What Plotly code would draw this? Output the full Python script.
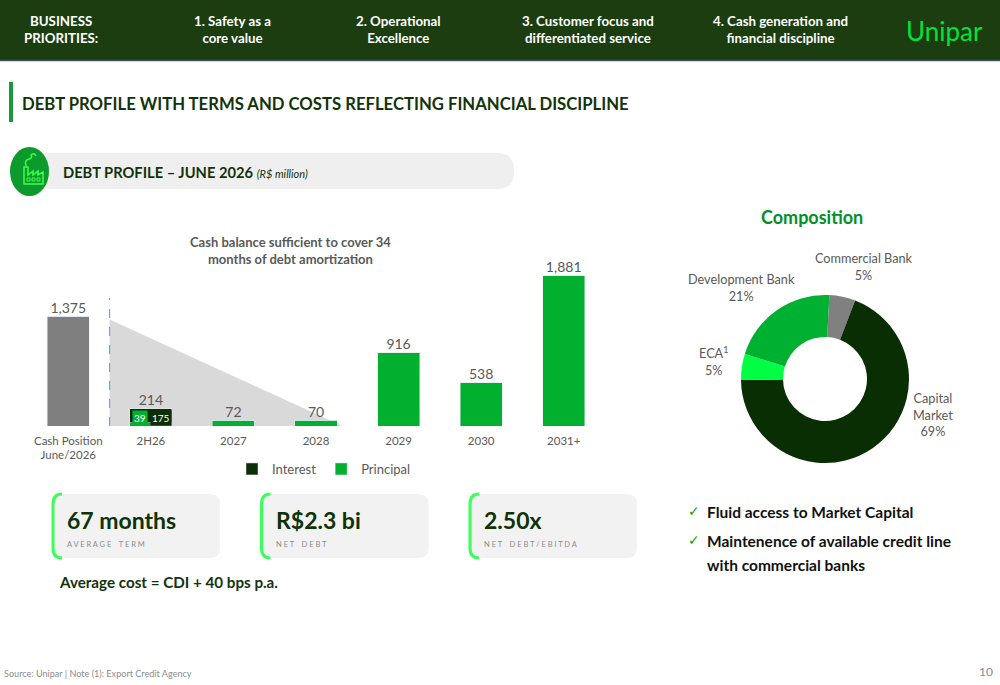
import plotly.graph_objects as go

W, H = 1000, 685

# ---- data ----
categories = ["Cash Position<br>June/2026", "2H26", "2027", "2028", "2029", "2030", "2031+"]
cash_position = [1375, 0, 0, 0, 0, 0, 0]
interest = [0, 175, 0, 0, 0, 0, 0]
principal = [0, 39, 72, 70, 916, 538, 1881]

comp_labels = ["Commercial Bank", "Capital Market", "ECA¹", "Development Bank"]
comp_values = [5, 69, 5, 21]

kpi_values = ["67 months", "R$2.3 bi", "2.50x"]
kpi_labels = ["AVERAGE TERM", "NET DEBT", "NET DEBT/EBITDA"]

priorities = ["BUSINESS<br>PRIORITIES:", "1. Safety as a<br>core value", "2. Operational<br>Excellence",
              "3. Customer focus and<br>differentiated service", "4. Cash generation and<br>financial discipline"]

totals = [c + i + p for c, i, p in zip(cash_position, interest, principal)]

DARK = "#0b2f06"
GREEN = "#00b02e"
GRAY_TXT = "#595959"
CAL = "Lato, sans-serif"
NARROW = "Liberation Sans Narrow, Lato, sans-serif"


def px(x):
    return x / W


def py(y):
    return 1 - y / H


def path_px(cmds):
    s = ""
    for p in cmds:
        if p[0] == "Z":
            s += "Z "
            continue
        coords = p[1:]
        s += p[0] + " " + " ".join(
            f"{px(coords[k]):.5f},{py(coords[k + 1]):.5f}" for k in range(0, len(coords), 2)) + " "
    return s


def rrect(x0, y0, x1, y1, r):
    return path_px([("M", x0 + r, y0), ("L", x1 - r, y0), ("Q", x1, y0, x1, y0 + r), ("L", x1, y1 - r),
                    ("Q", x1, y1, x1 - r, y1), ("L", x0 + r, y1), ("Q", x0, y1, x0, y1 - r),
                    ("L", x0, y0 + r), ("Q", x0, y0, x0 + r, y0), ("Z",)])


fig = go.Figure()

# bars
fig.add_trace(go.Bar(x=categories, y=cash_position, marker_color="#7f7f7f", showlegend=False,
                     hoverinfo="skip"))
fig.add_trace(go.Bar(x=categories, y=principal, name="Principal", marker_color=GREEN, legendrank=2))
fig.add_trace(go.Bar(x=categories, y=interest, name="Interest", marker_color=DARK, legendrank=1))
fig.add_trace(go.Scatter(x=categories, y=totals, mode="text", text=[f"{t:,}" for t in totals],
                         textposition="top center", textfont=dict(size=14, color=GRAY_TXT, family=NARROW),
                         showlegend=False, cliponaxis=False, hoverinfo="skip"))

# donut
fig.add_trace(go.Pie(labels=comp_labels, values=comp_values, hole=0.5, sort=False, direction="clockwise",
                     rotation=3, textinfo="none", showlegend=False,
                     marker=dict(colors=["#808080", "#0a2e04", "#00ff44", "#00b030"]),
                     domain=dict(x=[px(741), px(909)], y=[py(463), py(295)])))

shapes = []
# header band
shapes.append(dict(type="rect", xref="paper", yref="paper", x0=0, x1=1, y0=py(60), y1=1,
                   fillcolor="#1b3d10", line=dict(width=0), layer="below"))
shapes.append(dict(type="line", xref="paper", yref="paper", x0=0, x1=1, y0=py(60.5), y1=py(60.5),
                   line=dict(color="#44536e", width=1.5)))
# title accent
shapes.append(dict(type="rect", xref="paper", yref="paper", x0=px(9), x1=px(13), y0=py(122), y1=py(82),
                   fillcolor="#1a9a3a", line=dict(width=0)))
# subtitle pill
shapes.append(dict(type="path", xref="paper", yref="paper", path=rrect(25, 153, 514, 189, 17),
                   fillcolor="#efefef", line=dict(width=0), layer="below"))
shapes.append(dict(type="circle", xref="paper", yref="paper", x0=px(10), x1=px(49), y0=py(196), y1=py(147),
                   fillcolor="#0c9a2c", line=dict(width=0)))
# factory icon
icon = [("M", 24, 184), ("L", 24, 167), ("L", 28, 167), ("L", 28, 175), ("L", 33, 171), ("L", 33, 175),
        ("L", 38, 171), ("L", 38, 175), ("L", 43, 172), ("L", 43, 184), ("Z",)]
shapes.append(dict(type="path", xref="paper", yref="paper", path=path_px(icon),
                   line=dict(color="#3dff4a", width=1.5)))
smoke = [("M", 26, 166), ("Q", 24, 160, 29, 159), ("Q", 33, 158, 31, 155), ("Q", 34, 152, 36, 156)]
shapes.append(dict(type="path", xref="paper", yref="paper", path=path_px(smoke),
                   line=dict(color="#3dff4a", width=1.5)))
for wx in (27, 32, 37):
    shapes.append(dict(type="rect", xref="paper", yref="paper", x0=px(wx), x1=px(wx + 3), y0=py(181),
                       y1=py(178), line=dict(color="#3dff4a", width=1)))

# amortization triangle + dashed divider
shapes.append(dict(type="path", xref="x", yref="y", path="M 0.5,1330 L 0.5,0 L 3.32,0 Z",
                   fillcolor="#d9d9d9", line=dict(width=0), layer="below"))
shapes.append(dict(type="line", xref="x", yref="y", x0=0.5, x1=0.5, y0=0, y1=1600,
                   line=dict(color="#4fb3d9", width=1.2, dash="dash")))

# KPI boxes
for i in range(3):
    x0 = 53 + i * 208.5
    shapes.append(dict(type="path", xref="paper", yref="paper", path=rrect(x0, 494, x0 + 167, 558, 10),
                       fillcolor="#f2f2f2", line=dict(width=0), layer="below"))
    edge = [("M", x0 + 9, 494), ("Q", x0, 494, x0, 504), ("L", x0, 548), ("Q", x0, 558, x0 + 9, 558)]
    shapes.append(dict(type="path", xref="paper", yref="paper", path=path_px(edge),
                       line=dict(color="#3cff5c", width=3)))

annotations = []


def note(x, y, text, size, color, family=CAL, xanchor="left", yanchor="middle", align="left", **kw):
    annotations.append(dict(xref="paper", yref="paper", x=px(x), y=py(y), text=text, showarrow=False,
                            xanchor=xanchor, yanchor=yanchor, align=align,
                            font=dict(size=size, color=color, family=family), **kw))


for x, t in zip([61, 232, 398, 588, 780], priorities):
    note(x, 30, f"<b>{t}</b>", 13.3, "white", xanchor="center", align="center")
note(944, 31, "Unipar", 26, "#00e23c", xanchor="center")

note(20, 104, "<b>DEBT PROFILE WITH TERMS AND COSTS REFLECTING FINANCIAL DISCIPLINE</b>", 16.7, "#12330a")
note(61, 172, "<b>DEBT PROFILE – JUNE 2026</b> <i><span style='font-size:11px'>(R$ million)</span></i>",
     14.7, "#12330a")

note(290, 250, "<b>Cash balance sufficient to cover 34<br>months of debt amortization</b>", 13, GRAY_TXT,
     xanchor="center", align="center")

note(812, 217, "<b>Composition</b>", 18, "#00902a", xanchor="center")
note(864, 266, "Commercial Bank<br>5%", 12.7, GRAY_TXT, xanchor="center", align="center")
note(741, 287, "Development Bank<br>21%", 12.7, GRAY_TXT, xanchor="center", align="center")
note(713, 361, "ECA<sup>1</sup><br>5%", 12.7, GRAY_TXT, xanchor="center", align="center")
note(933, 414, "Capital<br>Market<br>69%", 12.7, GRAY_TXT, xanchor="center", align="center")

for i in range(3):
    x0 = 53 + i * 208.5
    note(x0 + 12, 520, f"<b>{kpi_values[i]}</b>", 23, "#0d3306")
    note(x0 + 12, 544, " ".join(kpi_labels[i]).replace("   ", "    "), 7.5, "#8c8c8c")

note(57, 582, "<b>Average cost = CDI + 40 bps p.a.</b>", 15.2, "#12330a")

note(686, 511, "✓", 14, "#1aa01a", family="DejaVu Sans")
note(705, 512, "<b>Fluid access to Market Capital</b>", 15.5, "#111111")
note(686, 540, "✓", 14, "#1aa01a", family="DejaVu Sans")
note(705, 541, "<b>Maintenence of available credit line</b>", 15.5, "#111111")
note(705, 565, "<b>with commercial banks</b>", 15.5, "#111111")

note(2, 673, "Source: Unipar | Note (1): Export Credit Agency", 9.1, "#8c8c8c")
note(995, 671, "10", 12, "#8c8c8c", xanchor="right")

# labels inside the 2H26 bar
annotations.append(dict(xref="x", yref="y", x="2H26", y=95, text="39", showarrow=False, xshift=-11,
                        bgcolor=GREEN, font=dict(size=10, color="white", family=CAL), borderpad=1))
annotations.append(dict(xref="x", yref="y", x="2H26", y=95, text="175", showarrow=False, xshift=10,
                        bgcolor=DARK, font=dict(size=10, color="white", family=CAL), borderpad=1))

fig.update_layout(
    width=W, height=H, margin=dict(l=0, r=0, t=0, b=0),
    paper_bgcolor="white", plot_bgcolor="rgba(0,0,0,0)",
    barmode="stack", bargap=0.49,
    xaxis=dict(domain=[px(27), px(605)], showgrid=False, showline=False, ticks="",
               tickfont=dict(size=11.5, color=GRAY_TXT, family=NARROW), ticklabelstandoff=6,
               fixedrange=True),
    yaxis=dict(domain=[py(426), py(266)], range=[0, 2000], visible=False, fixedrange=True),
    legend=dict(orientation="h", x=px(324), y=py(469), xanchor="center", yanchor="middle",
                font=dict(size=13, color=GRAY_TXT, family=NARROW), traceorder="normal",
                itemwidth=30, bgcolor="rgba(0,0,0,0)"),
    shapes=shapes, annotations=annotations,
)

fig.write_html("out.html", config={"displayModeBar": False},
               post_script="document.body.style.margin='0';")
